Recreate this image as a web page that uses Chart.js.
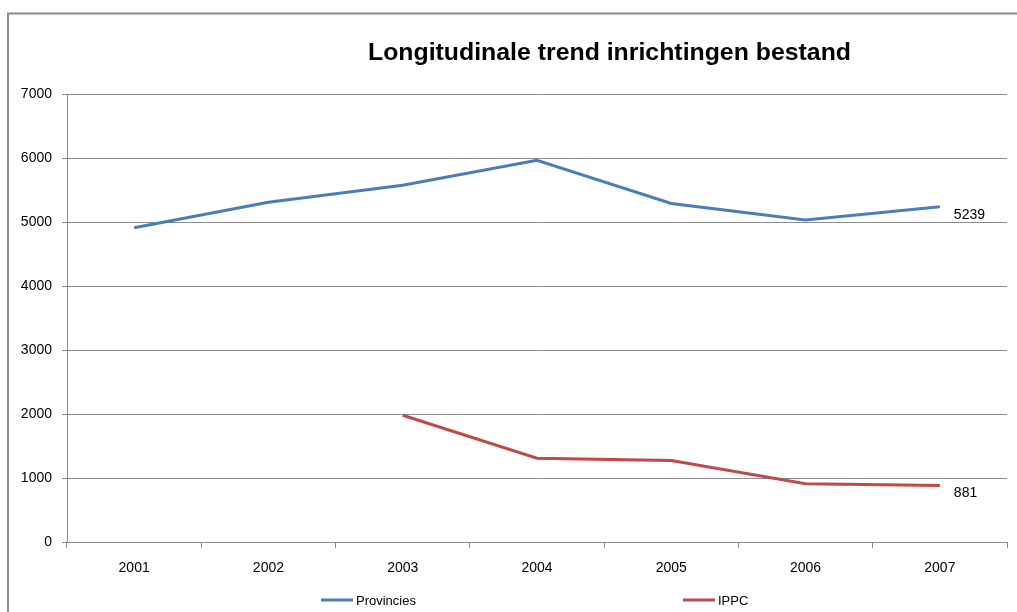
<!DOCTYPE html>
<html>
<head>
<meta charset="utf-8">
<script src="https://cdn.jsdelivr.net/npm/chart.js@4/dist/chart.umd.min.js"></script>
<style>
  html, body { margin: 0; padding: 0; background: #fff; }
  canvas { display: block; }
</style>
</head>
<body>
<canvas id="chart" width="1017" height="612"></canvas>
<script>
const years = ['2001', '2002', '2003', '2004', '2005', '2006', '2007'];
const provincies = [4910, 5310, 5575, 5965, 5290, 5030, 5239];
const ippc = [null, null, 1980, 1310, 1275, 910, 881];
const yTicks = [0, 1000, 2000, 3000, 4000, 5000, 6000, 7000];

const FONT = '"Liberation Sans", Arial, sans-serif';
const GRID = '#8c8c8c';

// frame, title, end labels and legend drawn by hand
const decor = {
  id: 'decor',
  beforeDraw(chart) {
    const ctx = chart.ctx;
    ctx.save();
    ctx.strokeStyle = '#8c8c8c';
    ctx.lineWidth = 2;
    ctx.strokeRect(8, 13.5, 1020, 620);
    ctx.restore();
  },
  afterDraw(chart) {
    const ctx = chart.ctx;
    ctx.save();

    // title squeezed to the width of the original
    const title = 'Longitudinale trend inrichtingen bestand';
    ctx.font = 'bold 24px ' + FONT;
    ctx.fillStyle = '#000';
    ctx.textBaseline = 'alphabetic';
    const w = ctx.measureText(title).width;
    ctx.translate(368, 60);
    ctx.scale(483 / w, 1);
    ctx.fillText(title, 0, 0);
    ctx.setTransform(1, 0, 0, 1, 0, 0);

    // value label at the last point of each line
    ctx.font = '14px ' + FONT;
    ctx.textBaseline = 'middle';
    ctx.textAlign = 'left';
    chart.data.datasets.forEach((ds, i) => {
      const pts = chart.getDatasetMeta(i).data;
      const last = pts[pts.length - 1];
      ctx.fillText(String(ds.data[ds.data.length - 1]), last.x + 14, last.y + 8);
    });

    // legend
    const items = [
      { label: 'Provincies', color: '#4a7ebb', x: 321 },
      { label: 'IPPC', color: '#be4b48', x: 683 }
    ];
    ctx.font = '13px ' + FONT;
    items.forEach(it => {
      ctx.strokeStyle = it.color;
      ctx.lineWidth = 3;
      ctx.beginPath();
      ctx.moveTo(it.x, 600);
      ctx.lineTo(it.x + 32, 600);
      ctx.stroke();
      ctx.fillStyle = '#000';
      ctx.fillText(it.label, it.x + 35, 601);
    });
    ctx.restore();
  }
};

new Chart(document.getElementById('chart'), {
  type: 'line',
  data: {
    labels: years,
    datasets: [
      { label: 'Provincies', data: provincies, borderColor: '#4a7ebb', borderWidth: 3, pointRadius: 0, tension: 0 },
      { label: 'IPPC', data: ippc, borderColor: '#be4b48', borderWidth: 3, pointRadius: 0, tension: 0 }
    ]
  },
  options: {
    responsive: false,
    animation: false,
    events: [],
    layout: { padding: { left: 0, right: 10, top: 94, bottom: 0 } },
    plugins: {
      legend: { display: false },
      title: { display: false },
      tooltip: { enabled: false }
    },
    scales: {
      x: {
        offset: true,
        grid: { offset: true, drawOnChartArea: false, drawTicks: true, tickLength: 6, color: GRID },
        border: { color: GRID, width: 1 },
        ticks: { color: '#000', font: { family: FONT, size: 14 }, padding: 12, maxRotation: 0 },
        afterFit(s) { s.height = 70; }
      },
      y: {
        min: 0,
        max: 7000,
        afterBuildTicks(s) { s.ticks = yTicks.map(v => ({ value: v })); },
        grid: { color: GRID, tickLength: 5 },
        border: { color: GRID, width: 1 },
        ticks: { color: '#000', font: { family: FONT, size: 14 }, padding: 10, callback: v => String(v) },
        afterFit(s) { s.width = 67; }
      }
    }
  },
  plugins: [decor]
});
</script>
</body>
</html>
